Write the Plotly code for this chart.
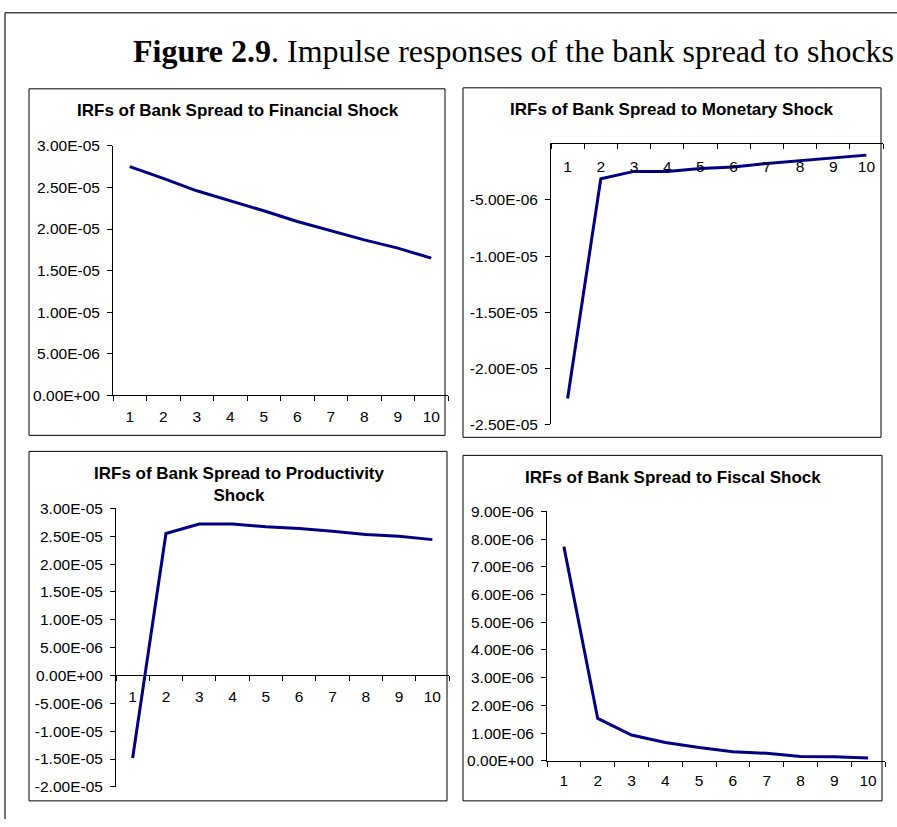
import plotly.graph_objects as go

W, H = 897, 827

periods = [1, 2, 3, 4, 5, 6, 7, 8, 9, 10]
financial = [2.75e-05, 2.61e-05, 2.46e-05, 2.34e-05, 2.22e-05, 2.09e-05, 1.98e-05, 1.87e-05, 1.77e-05, 1.65e-05]
monetary = [-2.27e-05, -3.1e-06, -2.45e-06, -2.45e-06, -2.2e-06, -2.05e-06, -1.75e-06, -1.5e-06, -1.25e-06, -1.0e-06]
productivity = [-1.48e-05, 2.55e-05, 2.72e-05, 2.72e-05, 2.67e-05, 2.64e-05, 2.59e-05, 2.53e-05, 2.50e-05, 2.44e-05]
fiscal = [7.73e-06, 1.53e-06, 9.3e-07, 6.6e-07, 4.8e-07, 3.3e-07, 2.7e-07, 1.6e-07, 1.5e-07, 1.0e-07]

titles = [
    "IRFs of Bank Spread to Financial Shock",
    "IRFs of Bank Spread to Monetary Shock",
    "IRFs of Bank Spread to Productivity<br>Shock",
    "IRFs of Bank Spread to Fiscal Shock",
]
fig_title = "<b>Figure 2.9</b>. Impulse responses of the bank spread to shocks"

# y ranges and tick steps
y_ranges = [(0.0, 3e-05), (-2.5e-05, 0.0), (-2e-05, 3e-05), (0.0, 9e-06)]
y_steps = [5e-06, 5e-06, 5e-06, 1e-06]

series = [financial, monetary, productivity, fiscal]

# layout in pixels (target picture coordinates)
plot_boxes = [  # x0, x1, ytop, ybottom of plotting areas
    (113, 448, 146, 395),
    (551, 883, 144, 424),
    (116, 449, 508, 786),
    (547, 885, 511, 760),
]
frames = [
    (29, 89, 445, 435),
    (463, 88, 881, 437),
    (29, 451, 447, 800),
    (463, 455, 882, 800),
]
title_pos = [(238, 111), (672, 110), (239, 484), (673, 477)]
xlabel_standoff = [7, 17, 7, 6]

# vertical correction for the capture pipeline
VS, VOFF = 0.978, 9.5


def fx(p):
    return p / W


def fy(p):
    return 1 - (p / VS - VOFF) / H


TICK_FONT = dict(family="Liberation Sans, Arial, sans-serif", size=15.5, color="black")
NAVY = "#000080"

fig = go.Figure()
layout = dict(
    width=W, height=H, margin=dict(l=0, r=0, t=0, b=0),
    paper_bgcolor="white", plot_bgcolor="white", showlegend=False,
)

minor_vals = [p - 0.5 for p in periods] + [periods[-1] + 0.5]

for i in range(4):
    n = i + 1
    xa = "x" if n == 1 else f"x{n}"
    ya = "y" if n == 1 else f"y{n}"
    xkey = "xaxis" if n == 1 else f"xaxis{n}"
    ykey = "yaxis" if n == 1 else f"yaxis{n}"
    x0, x1, yt, yb = plot_boxes[i]
    ymin, ymax = y_ranges[i]
    step = y_steps[i]
    kmin = round(ymin / step)
    kmax = round(ymax / step)
    yvals = [k * step for k in range(kmin, kmax + 1)]
    ytext = [f"{v:.2E}" for v in yvals]

    fig.add_trace(go.Scatter(
        x=periods, y=series[i], mode="lines",
        line=dict(color=NAVY, width=3), xaxis=xa, yaxis=ya,
        hoverinfo="skip",
    ))

    xdomain = [fx(x0), fx(x1)]
    ydomain = [fy(yb), fy(yt)]

    xaxis = dict(
        domain=xdomain, range=[0.5, 10.5], showgrid=False, zeroline=False,
        showline=True, linecolor="black", linewidth=1,
        tickmode="array", tickvals=periods, ticktext=[str(p) for p in periods],
        ticks="", tickfont=TICK_FONT, ticklabelstandoff=xlabel_standoff[i],
        minor=dict(tickmode="array", tickvals=minor_vals, ticks="outside",
                   ticklen=5, tickcolor="black", tickwidth=1, showgrid=False),
        fixedrange=True,
    )
    if n == 1 or n == 4:
        xaxis.update(anchor=ya)
    elif n == 2:
        xaxis.update(anchor=ya, side="top", ticklabelposition="inside")
        xaxis["minor"]["ticks"] = "inside"
    else:
        pos = ydomain[0] + (0 - ymin) / (ymax - ymin) * (ydomain[1] - ydomain[0])
        xaxis.update(anchor="free", position=pos)

    yaxis = dict(
        domain=ydomain, range=[ymin, ymax], anchor=xa, showgrid=False,
        zeroline=False, showline=True, linecolor="black", linewidth=1,
        tickmode="array", tickvals=yvals, ticktext=ytext, ticks="outside",
        ticklen=5, tickcolor="black", tickfont=TICK_FONT, ticklabelstandoff=4,
        fixedrange=True,
    )
    layout[xkey] = xaxis
    layout[ykey] = yaxis

shapes = []
for (a, b, c, d) in frames:
    shapes.append(dict(type="rect", xref="paper", yref="paper",
                       x0=fx(a), x1=fx(c), y0=fy(d), y1=fy(b),
                       line=dict(color="black", width=1), layer="below"))
# outer page frame
shapes.append(dict(type="line", xref="paper", yref="paper",
                   x0=fx(5), x1=1, y0=fy(13), y1=fy(13),
                   line=dict(color="#444444", width=1.5)))
shapes.append(dict(type="line", xref="paper", yref="paper",
                   x0=fx(5), x1=fx(5), y0=0, y1=fy(13),
                   line=dict(color="#444444", width=1.5)))

annotations = []
for i, t in enumerate(titles):
    cx, cy = title_pos[i]
    annotations.append(dict(
        text=f"<b>{t}</b>", x=fx(cx), y=fy(cy), xref="paper", yref="paper",
        xanchor="center", yanchor="middle", showarrow=False,
        font=dict(family="Liberation Sans, Arial, sans-serif", size=17, color="black"),
    ))
annotations.append(dict(
    text=fig_title, x=fx(513), y=fy(51), xref="paper", yref="paper",
    xanchor="center", yanchor="middle", showarrow=False,
    font=dict(family="Liberation Serif, Times New Roman, serif", size=32, color="black"),
))

layout["shapes"] = shapes
layout["annotations"] = annotations
fig.update_layout(**layout)

post = (
    "document.documentElement.style.margin='0';"
    "document.documentElement.style.overflow='hidden';"
    "document.body.style.margin='0';"
    "document.body.style.overflow='hidden';"
    "var gd=document.querySelector('.plotly-graph-div');"
    "gd.style.position='fixed';gd.style.left='0px';gd.style.top='0px';"
)

fig.write_html("out.html", config={"displayModeBar": False}, post_script=post)
